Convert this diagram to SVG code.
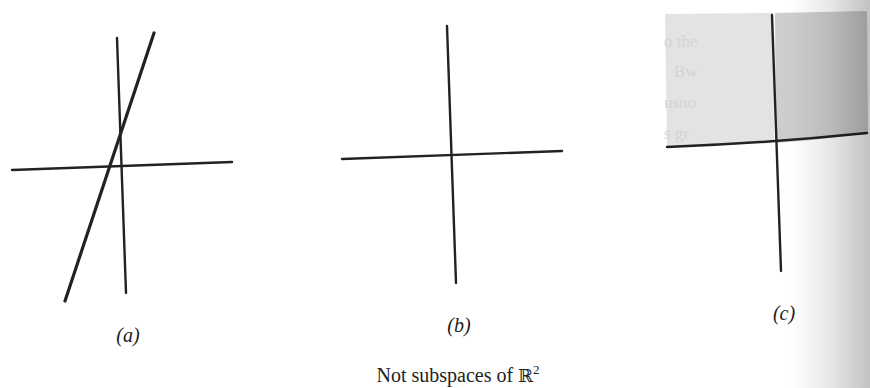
<svg xmlns="http://www.w3.org/2000/svg" width="870" height="388" viewBox="0 0 870 388">
  <defs>
    <linearGradient id="gutter" x1="0" y1="0" x2="1" y2="0">
      <stop offset="0" stop-color="#000" stop-opacity="0"/>
      <stop offset="0.45" stop-color="#000" stop-opacity="0.08"/>
      <stop offset="1" stop-color="#000" stop-opacity="0.24"/>
    </linearGradient>
  </defs>
  <style>
    .ax { stroke: #222; stroke-width: 2.4; fill: none; stroke-linecap: round; }
    .ln { stroke: #222; stroke-width: 3.2; fill: none; stroke-linecap: round; }
    .lbl { font-family: "Liberation Serif", "DejaVu Serif", serif; font-style: italic; font-size: 20px; fill: #222; text-anchor: middle; }
    .cap { font-family: "Liberation Serif", "DejaVu Serif", serif; font-size: 20px; fill: #222; text-anchor: middle; }
    .ghost { font-family: "Liberation Serif", serif; font-size: 17px; fill: #d4d4d4; }
  </style>
  <rect width="870" height="388" fill="#fff"/>

  <g id="panel-a">
    <line class="ax" x1="12" y1="170" x2="232" y2="162"/>
    <line class="ax" x1="117" y1="38" x2="126" y2="293"/>
    <line class="ln" x1="154" y1="33" x2="65" y2="301"/>
    <text class="lbl" x="128" y="342">(a)</text>
  </g>

  <g id="panel-b">
    <line class="ax" x1="342" y1="159" x2="562" y2="151"/>
    <line class="ax" x1="447" y1="26" x2="456" y2="283"/>
    <text class="lbl" x="459" y="332">(b)</text>
  </g>

  <g id="panel-c">
    <polygon points="665,14 773,13 774,143 667,147" fill="#e3e3e3"/>
    <path d="M775,13 L867,11 L868,133 Q820,140 776,143 Z" fill="#cdcdcd"/>
    <text class="ghost" x="664" y="47">o the</text>
    <text class="ghost" x="674" y="77">Bw</text>
    <text class="ghost" x="664" y="108">usno</text>
    <text class="ghost" x="664" y="139">s  gr</text>
    <path class="ax" d="M667,147 Q770,143 867,133"/>
    <line class="ax" x1="772" y1="15" x2="781" y2="271"/>
    <text class="lbl" x="784" y="320">(c)</text>
  </g>

  <rect x="790" y="0" width="80" height="388" fill="url(#gutter)"/>

  <text class="cap" x="458" y="382">Not subspaces of <tspan font-family="DejaVu Serif, serif" font-size="18">ℝ</tspan><tspan font-size="13" dy="-8">2</tspan></text>
</svg>
